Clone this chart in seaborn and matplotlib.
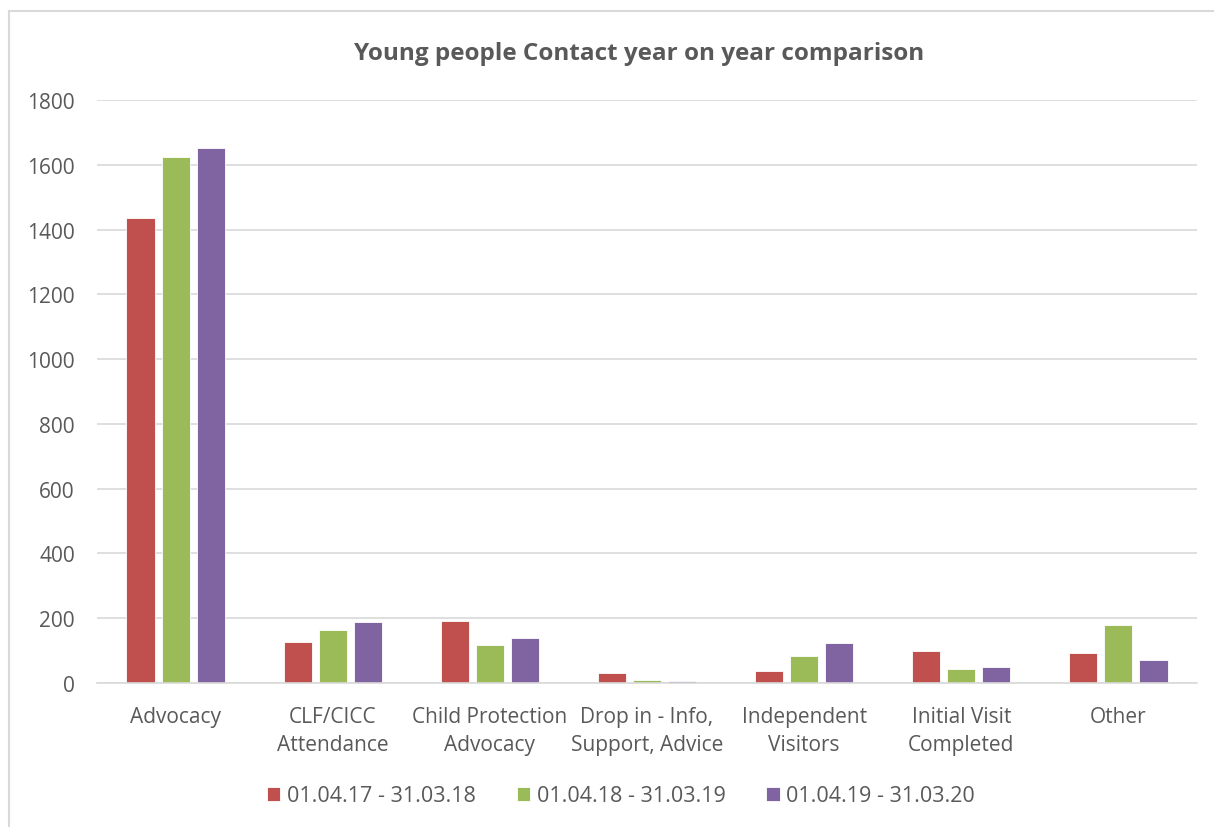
import matplotlib
matplotlib.use("Agg")
import matplotlib.pyplot as plt
import seaborn as sns
import pandas as pd
from matplotlib.lines import Line2D

categories = [
    "Advocacy",
    "CLF/CICC\nAttendance",
    "Child Protection\nAdvocacy",
    "Drop in - Info,\nSupport, Advice",
    "Independent\nVisitors",
    "Initial Visit\nCompleted",
    "Other",
]
periods = ["01.04.17 - 31.03.18", "01.04.18 - 31.03.19", "01.04.19 - 31.03.20"]
values_1718 = [1435, 126, 190, 31, 36, 98, 93]
values_1819 = [1624, 165, 116, 9, 84, 44, 179]
values_1920 = [1651, 188, 138, 5, 123, 49, 71]
colors = ["#C0504D", "#9BBB59", "#8064A2"]

rows = []
for period, vals in zip(periods, [values_1718, values_1819, values_1920]):
    for cat, v in zip(categories, vals):
        rows.append({"category": cat, "period": period, "value": v})
df = pd.DataFrame(rows)

sns.set_theme(style="white")
plt.rcParams["font.family"] = ["Open Sans", "DejaVu Sans"]
text_color = "#595959"
grid_color = "#D9D9D9"

fig = plt.figure(figsize=(12.14, 8.28), dpi=100)
ax = fig.add_axes([97 / 1214, 1 - 684 / 828, 1100 / 1214, 583 / 828])

sns.barplot(data=df, x="category", y="value", hue="period", palette=colors,
            order=categories, hue_order=periods, width=0.67, gap=0.2,
            saturation=1, edgecolor="white", linewidth=0.6, ax=ax, legend=True)

ax.set_ylim(0, 1800)
ax.set_yticks(range(0, 1801, 200))
ax.set_xlim(-0.5, len(categories) - 0.5)
ax.yaxis.grid(True, color=grid_color, linewidth=1.2)
ax.set_axisbelow(True)
for side in ["left", "right", "top"]:
    ax.spines[side].set_visible(False)
ax.spines["bottom"].set_color(grid_color)
ax.spines["bottom"].set_linewidth(1.2)
ax.tick_params(axis="both", length=0, colors=text_color, labelsize=15)
ax.tick_params(axis="x", pad=16.5)
ax.tick_params(axis="y", pad=16)
for lbl in ax.get_xticklabels():
    lbl.set_linespacing(1.45)
ax.set_xlabel("")
ax.set_ylabel("")

fig.text(639 / 1214, 1 - 54 / 828, "Young people Contact year on year comparison",
         ha="center", va="center", fontsize=17.5, fontweight="bold", color=text_color)

handles, labels = ax.get_legend_handles_labels()
ax.legend(handles, labels, loc="center", bbox_to_anchor=(621 / 1214, 1 - 797 / 828),
          bbox_transform=fig.transFigure, ncol=3, frameon=False, fontsize=15.5,
          labelcolor=text_color, handlelength=0.62, handleheight=0.62,
          handletextpad=0.3, columnspacing=1.9)

# chart frame: top and left edges
fig.add_artist(Line2D([9 / 1214, 1], [1 - 12 / 828, 1 - 12 / 828],
                      transform=fig.transFigure, color=grid_color, linewidth=1.5))
fig.add_artist(Line2D([9 / 1214, 9 / 1214], [0, 1 - 12 / 828],
                      transform=fig.transFigure, color=grid_color, linewidth=1.5))

fig.savefig("out.png", dpi=100)
